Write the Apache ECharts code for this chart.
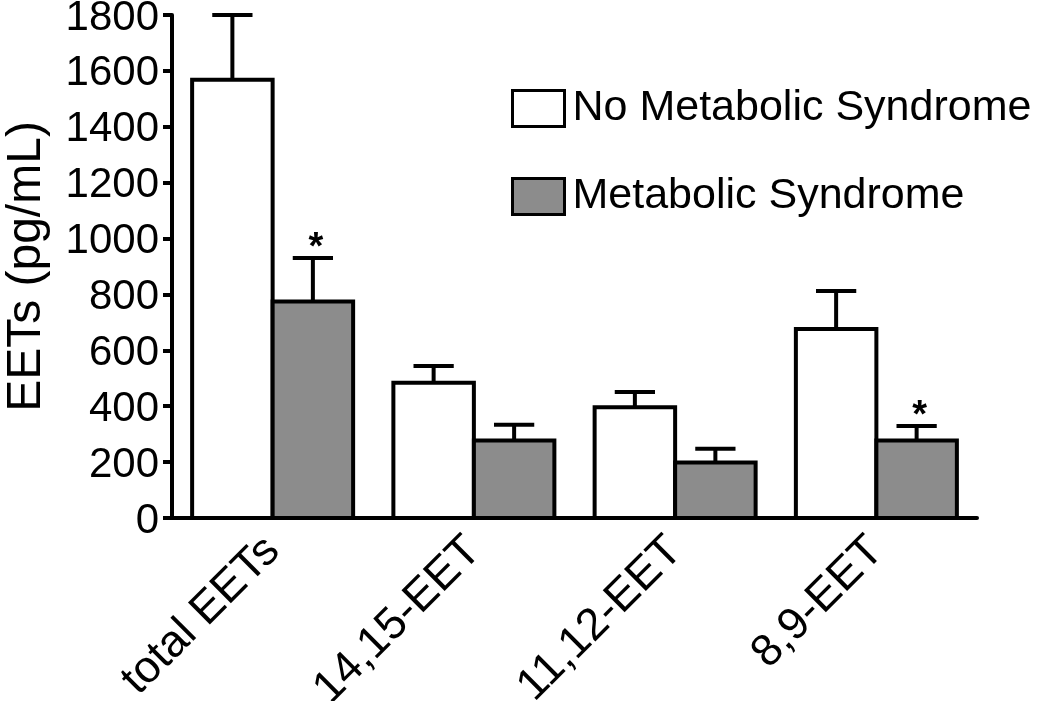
<!DOCTYPE html>
<html>
<head>
<meta charset="utf-8">
<script src="https://cdn.jsdelivr.net/npm/echarts@6/dist/echarts.min.js"></script>
<style>
html,body{margin:0;padding:0;background:#fff;}
#chart{width:1050px;height:701px;}
</style>
</head>
<body>
<div id="chart"></div>
<script>
const categories = ['total EETs', '14,15-EET', '11,12-EET', '8,9-EET'];
const seriesNames = ['No Metabolic Syndrome', 'Metabolic Syndrome'];
const noMetS = [1568, 484, 396, 676];
const noMetSErrTop = [1800, 544, 451, 812];
const noMetSSignificant = [false, false, false, false];
const metS = [775, 277, 199, 277];
const metSErrTop = [930, 334, 248, 329];
const metSSignificant = [true, false, false, true];
const yTicks = { min: 0, max: 1800, interval: 200 };
const barColors = ['#ffffff', '#8c8c8c'];

const FONT = 'Liberation Sans, Arial, Helvetica, sans-serif';

function makeData(vals, tops, sigs) {
  return categories.map((c, i) => [i, vals[i], tops[i], sigs[i] ? 1 : 0]);
}

function makeRender(grp) {
  return function (params, api) {
    const ci = api.value(0);
    const v = api.value(1);
    const top = api.value(2);
    const sig = api.value(3);
    const band = api.size([1, 0])[0];
    const center = api.coord([ci, v]);
    const zeroP = api.coord([ci, 0]);
    const topP = api.coord([ci, top]);
    const bw = 0.4 * band;
    const x0 = center[0] + (grp === 0 ? -bw : 0);
    const cx = x0 + bw / 2;
    const half = 0.1 * band;
    const lineStyle = { stroke: '#000', lineWidth: 4 };
    const children = [
      { type: 'line', shape: { x1: cx, y1: center[1], x2: cx, y2: topP[1] }, style: lineStyle },
      { type: 'line', shape: { x1: cx - half, y1: topP[1], x2: cx + half, y2: topP[1] }, style: lineStyle },
      { type: 'rect', shape: { x: x0, y: center[1], width: bw, height: zeroP[1] - center[1] },
        style: { fill: barColors[grp], stroke: '#000', lineWidth: 4 } }
    ];
    if (sig) {
      children.push({
        type: 'text',
        style: { text: '*', x: cx + 3, y: topP[1] - 10, textAlign: 'center', textVerticalAlign: 'middle',
                 font: 'bold 38px ' + FONT, fill: '#000' }
      });
    }
    return { type: 'group', children: children };
  };
}

const chart = echarts.init(document.getElementById('chart'), null, { renderer: 'canvas' });
chart.setOption({
  backgroundColor: '#fff',
  animation: false,
  textStyle: { fontFamily: FONT, color: '#000' },
  grid: { left: 172, right: 73, top: 15, bottom: 183, containLabel: false, outerBoundsMode: 'none' },
  legend: {
    orient: 'vertical',
    left: 506,
    top: 82,
    itemWidth: 52,
    itemHeight: 36,
    itemGap: 45,
    icon: 'rect',
    data: seriesNames,
    itemStyle: { borderColor: '#000', borderWidth: 3 },
    textStyle: { fontSize: 43, color: '#000', fontFamily: FONT, padding: [0, 0, 0, 3] },
    selectedMode: false
  },
  xAxis: {
    type: 'category',
    data: categories,
    axisLine: { lineStyle: { color: '#000', width: 4 } },
    axisTick: { alignWithLabel: true, length: 10, lineStyle: { color: '#000', width: 4 } },
    axisLabel: { rotate: 45, fontSize: 45, color: '#000', fontFamily: FONT, margin: 26 }
  },
  yAxis: {
    type: 'value',
    min: yTicks.min, max: yTicks.max, interval: yTicks.interval,
    name: 'EETs (pg/mL)',
    nameLocation: 'middle',
    nameGap: 121,
    nameTextStyle: { fontSize: 48, color: '#000', fontFamily: FONT },
    axisLine: { show: true, lineStyle: { color: '#000', width: 4 } },
    axisTick: { show: true, length: 9, lineStyle: { color: '#000', width: 4 } },
    axisLabel: {
      color: '#000', margin: 13,
      formatter: function (v) { return '{t|' + String(v) + '}'; },
      rich: { t: { fontSize: 42, color: '#000', fontFamily: FONT, padding: [6, 0, 0, 0] } }
    },
    splitLine: { show: false }
  },
  series: [
    {
      name: seriesNames[0], type: 'custom', renderItem: makeRender(0),
      data: makeData(noMetS, noMetSErrTop, noMetSSignificant),
      itemStyle: { color: barColors[0], borderColor: '#000', borderWidth: 3 },
      encode: { x: 0, y: [1, 2] }, silent: true, z: 3
    },
    {
      name: seriesNames[1], type: 'custom', renderItem: makeRender(1),
      data: makeData(metS, metSErrTop, metSSignificant),
      itemStyle: { color: barColors[1], borderColor: '#000', borderWidth: 3 },
      encode: { x: 0, y: [1, 2] }, silent: true, z: 3
    }
  ]
});
</script>
</body>
</html>
